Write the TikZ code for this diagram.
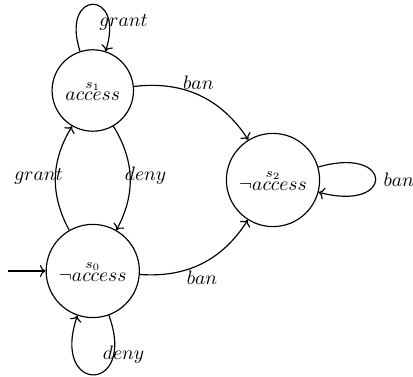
\documentclass[tikz,border=0pt]{standalone}
\usepackage{amsmath}
\usetikzlibrary{arrows.meta,positioning,calc}

\begin{document}
\begin{tikzpicture}[>=To, semithick,
    state/.style={draw, circle, inner sep=4.5pt},
    lbl/.style={anchor=base}]
  \useasboundingbox (0,0) rectangle (7.434,6.786);
  % states
  \node[state] (s1) at (1.67,5.157) {$\overset{s_1}{access}$};
  \node[state] (s0) at (1.67,1.908) {$\overset{s_0}{\neg access}$};
  \node[state] (s2) at (4.914,3.546) {$\overset{s_2}{\neg access}$};
  % initial arrow
  \coordinate (start) at (0.144,1.908);
  \draw[->] (start) -- (s0);
  % transitions
  \draw[->] (s1) to[out=108, in=72, looseness=6.6] (s1);
  \draw[->] (s0) to[out=-70, in=-109, looseness=6.8] (s0);
  \draw[->] (s2) to[out=16, in=-15, looseness=8] (s2);
  \draw[->] (s1) to[bend left=32] (s2);
  \draw[->] (s0) to[bend right=31] (s2);
  \draw[->] (s1) to[bend left=30] (s0);
  \draw[->] (s0) to[bend left=30] (s1);
  % labels
  \node[lbl] (lgrant1) at (2.223,6.309) {$grant$};
  \node[lbl] (ldeny0) at (2.223,0.306) {$deny$};
  \node[lbl] (lban2) at (7.177,3.425) {$ban$};
  \node[lbl] (lban12) at (3.569,5.166) {$ban$};
  \node[lbl] (lban02) at (3.636,1.656) {$ban$};
  \node[lbl] (lgrant01) at (0.693,3.528) {$grant$};
  \node[lbl] (ldeny10) at (2.619,3.528) {$deny$};
\end{tikzpicture}
\end{document}
